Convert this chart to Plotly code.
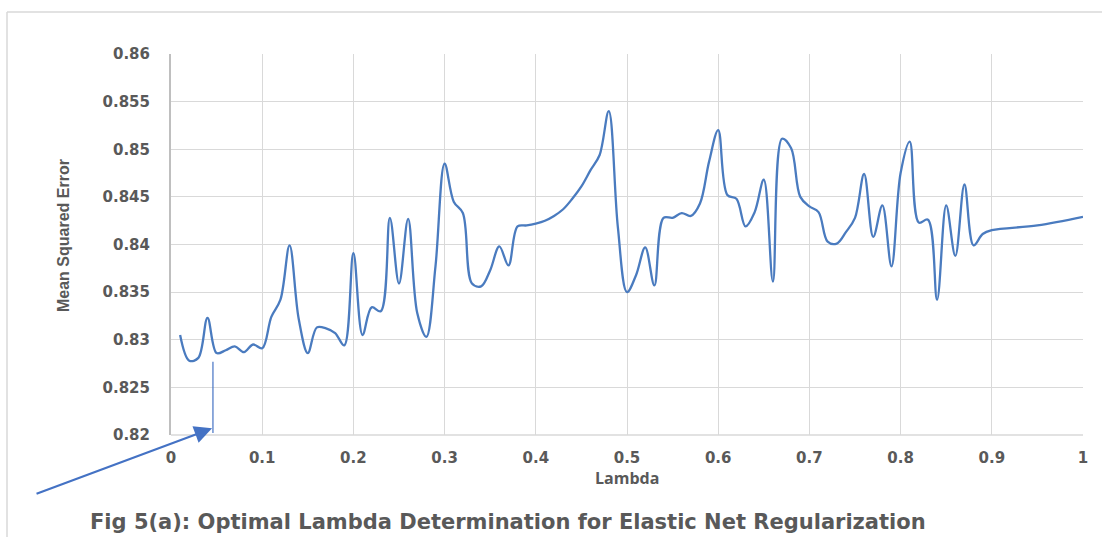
import plotly.graph_objects as go

# ---- data ----
lambdas = [0.01, 0.02, 0.03, 0.04, 0.05, 0.06, 0.07, 0.08, 0.09, 0.10,
           0.11, 0.12, 0.13, 0.14, 0.15, 0.16, 0.17, 0.18, 0.19, 0.20,
           0.21, 0.22, 0.23, 0.24, 0.25, 0.26, 0.27, 0.28, 0.29, 0.30,
           0.31, 0.32, 0.33, 0.34, 0.35, 0.36, 0.37, 0.38, 0.39, 0.40,
           0.41, 0.42, 0.43, 0.44, 0.45, 0.46, 0.47, 0.48, 0.49, 0.50,
           0.51, 0.52, 0.53, 0.54, 0.55, 0.56, 0.57, 0.58, 0.59, 0.60,
           0.61, 0.62, 0.63, 0.64, 0.65, 0.66, 0.67, 0.68, 0.69, 0.70,
           0.71, 0.72, 0.73, 0.74, 0.75, 0.76, 0.77, 0.78, 0.79, 0.80,
           0.81, 0.82, 0.83, 0.84, 0.85, 0.86, 0.87, 0.88, 0.89, 0.90,
           0.95, 1.00]
mse = [0.8305, 0.8278, 0.8281, 0.8323, 0.8286, 0.8289, 0.8293, 0.8287, 0.8295, 0.8291,
       0.8324, 0.8342, 0.8399, 0.8322, 0.8286, 0.8313, 0.8312, 0.8307, 0.8294, 0.8391,
       0.8305, 0.8334, 0.8330, 0.8428, 0.8359, 0.8427, 0.8328, 0.8303, 0.8377, 0.8485,
       0.8445, 0.8433, 0.8359, 0.8356, 0.8373, 0.8398, 0.8378, 0.8419, 0.8420, 0.8422,
       0.8425, 0.8430, 0.8437, 0.8448, 0.8461, 0.8478, 0.8494, 0.8540, 0.8418, 0.8350,
       0.8368, 0.8397, 0.8357, 0.8428, 0.8428, 0.8433, 0.8430, 0.8443, 0.8487, 0.8520,
       0.8452, 0.8448, 0.8419, 0.8434, 0.8468, 0.8361, 0.8511, 0.8501, 0.8450, 0.8440,
       0.8434, 0.8403, 0.8401, 0.8413, 0.8428, 0.8474, 0.8408, 0.8441, 0.8377, 0.8475,
       0.8508, 0.8423, 0.8426, 0.8342, 0.8441, 0.8388, 0.8463, 0.8399, 0.8411, 0.8415,
       0.8420, 0.8429]

x_ticks = [0, 0.1, 0.2, 0.3, 0.4, 0.5, 0.6, 0.7, 0.8, 0.9, 1.0]
x_ticktext = ["0", "0.1", "0.2", "0.3", "0.4", "0.5", "0.6", "0.7", "0.8", "0.9", "1"]
y_ticks = [0.82, 0.825, 0.83, 0.835, 0.84, 0.845, 0.85, 0.855, 0.86]
y_ticktext = ["0.82", "0.825", "0.83", "0.835", "0.84", "0.845", "0.85", "0.855", "0.86"]

x_title = "Lambda"
y_title = "Mean Squared Error"
caption = "Fig 5(a): Optimal Lambda Determination for Elastic Net Regularization"

# optimal-lambda marker (annotation)
opt_lambda = 0.046
marker_y = [0.8202, 0.8277]

# ---- figure ----
W, H = 1102, 537
ML, MR, MT, MB = 171, 19, 54, 102
pw, ph = W - ML - MR, H - MT - MB

def px_x(p):
    return (p - ML) / pw

def px_y(p):
    return (H - MB - p) / ph

grey = "#595959"
blue = "#4a7bbf"

fig = go.Figure()
fig.add_trace(go.Scatter(
    x=lambdas, y=mse, mode="lines",
    line=dict(color=blue, width=2.3, shape="spline", smoothing=1.0),
    showlegend=False, hoverinfo="x+y"))

# vertical marker line
fig.add_trace(go.Scatter(
    x=[opt_lambda, opt_lambda], y=marker_y, mode="lines",
    line=dict(color="#4472c4", width=1.2), showlegend=False, hoverinfo="skip"))

fig.update_layout(
    width=W, height=H,
    margin=dict(l=ML, r=MR, t=MT, b=MB),
    paper_bgcolor="white", plot_bgcolor="white",
    xaxis=dict(range=[0, 1], tickvals=x_ticks, ticktext=x_ticktext,
               showgrid=True, gridcolor="#d9d9d9", gridwidth=1,
               zeroline=False, showline=False, ticks="",
               ticklabelstandoff=12,
               tickfont=dict(family="DejaVu Sans", size=15, color=grey, weight="bold")),
    yaxis=dict(range=[0.82, 0.86], tickvals=y_ticks, ticktext=y_ticktext,
               showgrid=True, gridcolor="#d9d9d9", gridwidth=1,
               zeroline=False, showline=True, linecolor="#bfbfbf", linewidth=2,
               ticks="", ticklabelstandoff=16,
               tickfont=dict(family="DejaVu Sans", size=15, color=grey, weight="bold")),
    font=dict(family="DejaVu Sans", color=grey),
)

annotations = [
    dict(text=x_title, x=0.5, y=px_y(478), xref="paper", yref="paper",
         showarrow=False, xanchor="center", yanchor="middle",
         font=dict(family="Open Sans", size=16, color=grey, weight="bold")),
    dict(text=y_title, x=px_x(63), y=px_y(236), xref="paper", yref="paper",
         showarrow=False, textangle=-90, xanchor="center", yanchor="middle",
         font=dict(family="Liberation Sans", size=16,
                   color=grey, weight="bold")),
    dict(text=caption, x=px_x(88), y=px_y(522), xref="paper", yref="paper",
         showarrow=False, xanchor="left", yanchor="middle",
         font=dict(family="DejaVu Sans", size=21, color=grey, weight="bold")),
    dict(x=opt_lambda - 0.001, y=0.8207, xref="x", yref="y", text="",
         showarrow=True, arrowhead=2, arrowsize=1.6, arrowwidth=2.2,
         arrowcolor="#4472c4", ax=-177, ay=66, axref="pixel", ayref="pixel",
         standoff=0),
]
fig.update_layout(annotations=annotations)

shapes = [
    dict(type="line", xref="paper", yref="paper",
         x0=px_x(7), x1=px_x(1102), y0=px_y(12), y1=px_y(12),
         line=dict(color="#d9d9d9", width=1.5)),
    dict(type="line", xref="paper", yref="paper",
         x0=px_x(7), x1=px_x(7), y0=px_y(12), y1=px_y(540),
         line=dict(color="#d9d9d9", width=1.5)),
    dict(type="line", xref="paper", yref="paper",
         x0=0, x1=1, y0=0, y1=0, line=dict(color="#d9d9d9", width=1.5)),
]
fig.update_layout(shapes=shapes)

fig.write_html("out.html")
